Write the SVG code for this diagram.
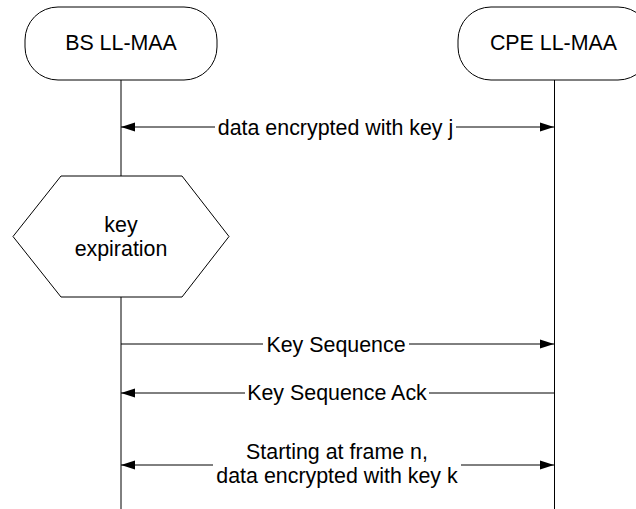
<svg xmlns="http://www.w3.org/2000/svg" width="636" height="509" viewBox="0 0 636 509">
<style>
  .box { fill: #ffffff; stroke: #000000; stroke-width: 1; }
  .life { stroke: #000000; stroke-width: 1; fill: none; }
  .msg { stroke: #000000; stroke-width: 1; fill: none; marker-end: url(#arrow); }
  .both { marker-start: url(#arrow); }
  text { font-family: "Liberation Sans", Arial, sans-serif; font-size: 21.4px; fill: #000000; text-anchor: middle; }
</style>
<defs>
  <marker id="arrow" markerUnits="userSpaceOnUse" markerWidth="14" markerHeight="10" refX="14" refY="5" orient="auto-start-reverse" viewBox="0 0 14 10">
    <path d="M0,0.5 L14,5 L0,9.5 z" fill="#000000"/>
  </marker>
</defs>
<rect width="636" height="509" fill="#ffffff"/>
<g id="lifelines">
  <line class="life" x1="121" y1="80" x2="121" y2="176"/>
  <line class="life" x1="121" y1="297" x2="121" y2="509"/>
  <line class="life" x1="554.5" y1="80" x2="554.5" y2="509"/>
</g>
<g id="bs">
  <rect class="box" x="25" y="7" width="192" height="73" rx="33" ry="33"/>
  <text x="121" y="50">BS LL-MAA</text>
</g>
<g id="cpe">
  <rect class="box" x="458" y="7" width="193" height="73" rx="33" ry="33"/>
  <text x="553.5" y="50">CPE LL-MAA</text>
</g>
<g id="keyexp">
  <polygon class="box" points="61,176 182,176 229,236.5 182,297 61,297 13,236.5"/>
  <text x="121" y="232">key</text>
  <text x="121" y="256">expiration</text>
</g>
<g id="connectors">
  <path class="msg both" d="M121,127 L215,127 M456,127 L554,127"/>
  <path class="msg" d="M121,344 L263,344 M409,344 L554,344"/>
  <path class="msg" d="M554,393 L429,393 M245,393 L121,393"/>
  <path class="msg both" d="M121,465 L213,465 M461,465 L554,465"/>
</g>
<g id="labels">
  <text x="335.5" y="135">data encrypted with key j</text>
  <text x="336" y="351.5">Key Sequence</text>
  <text x="337" y="400">Key Sequence Ack</text>
  <text x="337" y="459">Starting at frame n,</text>
  <text x="337" y="483">data encrypted with key k</text>
</g>
</svg>
